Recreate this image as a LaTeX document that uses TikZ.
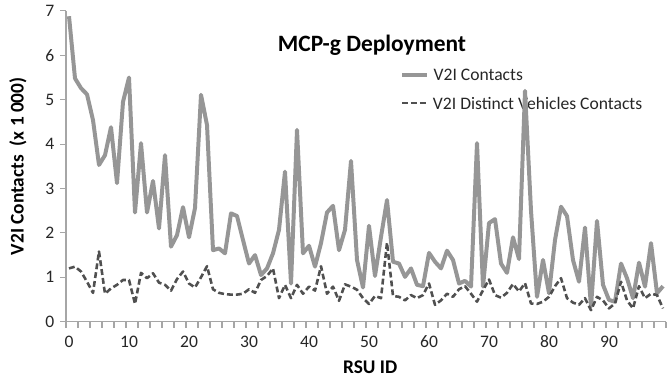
\documentclass[tikz,border=0pt]{standalone}
\usepackage{fontspec}
\setmainfont{Carlito}
\definecolor{contactgray}{RGB}{150,150,150}
\definecolor{distinctgray}{RGB}{80,80,80}
\definecolor{axisgray}{RGB}{166,166,166}
\begin{document}
\begin{tikzpicture}[x = 0.03cm, y = 0.03cm,
  axis/.style = {draw = axisgray, line width = 1pt},
  contacts/.style = {draw = contactgray, line width = 3.4pt, line join = round},
  distinct/.style = {draw = distinctgray, line width = 2.2pt, line join = round,
                     dash pattern = on 5pt off 2.6pt},
  ticklabel/.style = {font = \fontsize{15}{18}\selectfont, text = black!85},
  legendtext/.style = {font = \fontsize{15}{18}\selectfont, text = black!85,
                       anchor = west, inner sep = 4pt}]
\useasboundingbox (0, 0) rectangle (667, 381);
\node[font = \bfseries\fontsize{20}{24}\selectfont] (title) at (372, 336) {MCP-g Deployment};
\draw[contacts] (402, 306) -- (427, 306) node[legendtext] (leg1) {V2I Contacts};
\draw[distinct] (402, 278) -- (427, 278) node[legendtext] (leg2) {V2I Distinct Vehicles Contacts};
\begin{scope}[shift = {(2.07cm, 1.779cm)}, x = 0.18cm, y = 1.332cm]
\draw[axis] (-0.5, 7) -- (-0.5, 0) -- (99.5, 0);
\foreach \k in {0,...,7} {
  \draw[axis] (-0.5, \k) -- ++(-0.18cm, 0);
  \node[ticklabel, anchor = east, inner sep = 0pt] (ylab\k) at (-2.4, \k) {\k};
}
\foreach \k in {0,...,50}
  \draw[axis] (2*\k - 0.5, 0) -- ++(0, -0.18cm);
\foreach \k in {0, 10, ..., 90}
  \node[ticklabel] (xlab\k) at (\k, -0.457) {\k};
\node[font = \bfseries\fontsize{16.5}{20}\selectfont, rotate = 90] (ytitle) at (-8.5, 3.5)
  {V2I Contacts~ (x 1 000)};
\node[font = \bfseries\fontsize{16.5}{20}\selectfont] (xtitle) at (50.2, -1.02) {RSU ID};
\draw[contacts] (0, 6.88) \foreach \v [count = \i] in {
  5.48, 5.26, 5.12, 4.54, 3.53, 3.75, 4.38, 3.12, 4.95,
  5.50, 2.46, 4.02, 2.46, 3.17, 2.10, 3.75, 1.69, 1.95, 2.58,
  1.90, 2.56, 5.11, 4.43, 1.61, 1.65, 1.54, 2.44, 2.38, 1.84,
  1.31, 1.50, 1.05, 1.20, 1.54, 2.07, 3.38, 0.86, 4.32, 1.54,
  1.71, 1.24, 1.77, 2.46, 2.61, 1.61, 2.07, 3.62, 1.39, 0.77,
  2.16, 1.03, 1.91, 2.74, 1.35, 1.31, 1.01, 1.20, 0.83, 0.80,
  1.55, 1.35, 1.20, 1.60, 1.39, 0.86, 0.92, 0.79, 4.02, 0.79,
  2.22, 2.31, 1.31, 1.10, 1.90, 1.41, 5.20, 2.50, 0.56, 1.39,
  0.64, 1.84, 2.59, 2.38, 1.39, 0.90, 2.12, 0.34, 2.27, 0.83,
  0.49, 0.45, 1.31, 0.98, 0.53, 1.33, 0.79, 1.77, 0.64, 0.80} {-- (\i, \v)};
\draw[distinct] (0, 1.20) \foreach \v [count = \i] in {
  1.24, 1.13, 0.90, 0.65, 1.58, 0.63, 0.75, 0.83, 0.94,
  0.94, 0.40, 1.10, 0.98, 1.09, 0.88, 0.83, 0.70, 0.96, 1.13,
  0.86, 0.77, 1.00, 1.25, 0.73, 0.65, 0.62, 0.61, 0.61, 0.63,
  0.73, 0.65, 0.94, 1.03, 1.20, 0.53, 0.83, 0.53, 0.83, 0.63,
  0.79, 0.70, 1.25, 0.63, 0.79, 0.47, 0.84, 0.79, 0.72, 0.53,
  0.40, 0.58, 0.53, 1.78, 0.58, 0.56, 0.48, 0.60, 0.53, 0.60,
  0.86, 0.38, 0.48, 0.63, 0.56, 0.73, 0.80, 0.63, 0.45, 0.71,
  0.95, 0.60, 0.54, 0.65, 0.85, 0.68, 0.87, 0.41, 0.40, 0.45,
  0.56, 0.80, 0.98, 0.53, 0.43, 0.38, 0.53, 0.26, 0.56, 0.48,
  0.30, 0.41, 0.90, 0.48, 0.30, 0.80, 0.53, 0.63, 0.60, 0.30} {-- (\i, \v)};
\end{scope}
\end{tikzpicture}
\end{document}
